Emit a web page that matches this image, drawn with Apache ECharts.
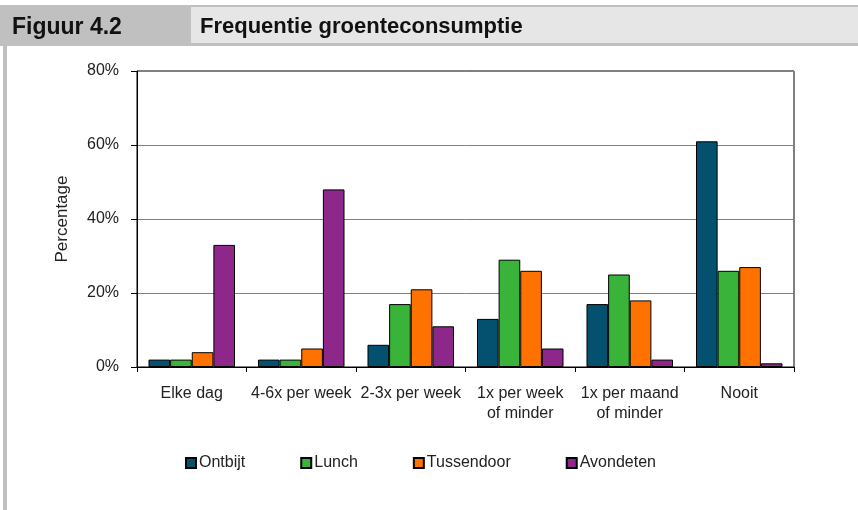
<!DOCTYPE html>
<html>
<head>
<meta charset="UTF-8">
<title>Frequentie groenteconsumptie</title>
<style>
  html, body { margin: 0; padding: 0; background: #fff; }
  #main { width: 858px; height: 510px; }
</style>
<script src="https://cdn.jsdelivr.net/npm/echarts@6/dist/echarts.min.js"></script>
</head>
<body>
<div id="main"></div>
<script>
// categorieen en waarden (percentages)
var categories = ['Elke dag', '4-6x per week', '2-3x per week', '1x per week\nof minder', '1x per maand\nof minder', 'Nooit'];
var ontbijt    = [2, 2, 6, 13, 17, 61];
var lunch      = [2, 2, 17, 29, 25, 26];
var tussendoor = [4, 5, 21, 26, 18, 27];
var avondeten  = [33, 48, 11, 5, 2, 1];
var yTicks = [0, 20, 40, 60, 80];

var font = 'Liberation Sans, Arial, sans-serif';
var myChart = echarts.init(document.getElementById('main'));

function bar(name, data, color) {
  return {
    name: name,
    type: 'bar',
    data: data,
    barGap: 0,
    barCategoryGap: '21%',
    itemStyle: { color: color, borderColor: '#000', borderWidth: 1 }
  };
}

var option = {
  animation: false,
  textStyle: { fontFamily: font },
  graphic: [
    // kop van de figuur
    { type: 'rect', shape: { x: 0, y: 5, width: 858, height: 41 }, style: { fill: '#c0c0c0' } },
    { type: 'rect', shape: { x: 191, y: 7, width: 667, height: 36 }, style: { fill: '#e6e6e6' } },
    { type: 'rect', shape: { x: 3, y: 46, width: 4, height: 464 }, style: { fill: '#c0c0c0' } },
    { type: 'text', left: 12, top: 16, style: { text: 'Figuur 4.2', fill: '#111', font: 'bold 23px ' + font } },
    { type: 'text', left: 200, top: 16, style: { text: 'Frequentie groenteconsumptie', fill: '#111', font: 'bold 22px ' + font } }
  ],
  grid: {
    left: 137, right: 64, top: 71, bottom: 143,
    show: true, borderColor: '#000', borderWidth: 1
  },
  legend: {
    left: 185, top: 455, padding: 0,
    itemWidth: 10, itemHeight: 10, itemGap: 55,
    icon: 'rect',
    textStyle: { fontSize: 16, color: '#222', padding: [0, 0, 0, -2] },
    data: ['Ontbijt', 'Lunch', 'Tussendoor', 'Avondeten']
  },
  xAxis: {
    type: 'category',
    data: categories,
    axisLine: { lineStyle: { color: '#000' } },
    axisTick: { show: true, length: 5, lineStyle: { color: '#000' } },
    axisLabel: { interval: 0, fontSize: 16, color: '#222', margin: 17, lineHeight: 20 }
  },
  yAxis: {
    type: 'value',
    min: yTicks[0], max: yTicks[yTicks.length - 1], interval: 20,
    name: 'Percentage',
    nameLocation: 'middle',
    nameGap: 66,
    nameTextStyle: { fontSize: 17, color: '#222' },
    axisLine: { show: true, lineStyle: { color: '#000' } },
    axisTick: { show: true, length: 6, lineStyle: { color: '#000' } },
    axisLabel: { fontSize: 16, color: '#222', margin: 18, formatter: '{value}%' },
    splitLine: { lineStyle: { color: '#808080' } }
  },
  series: [
    bar('Ontbijt', ontbijt, '#03506f'),
    bar('Lunch', lunch, '#39b339'),
    bar('Tussendoor', tussendoor, '#ff7200'),
    bar('Avondeten', avondeten, '#8d2789')
  ]
};

myChart.setOption(option);
</script>
</body>
</html>
